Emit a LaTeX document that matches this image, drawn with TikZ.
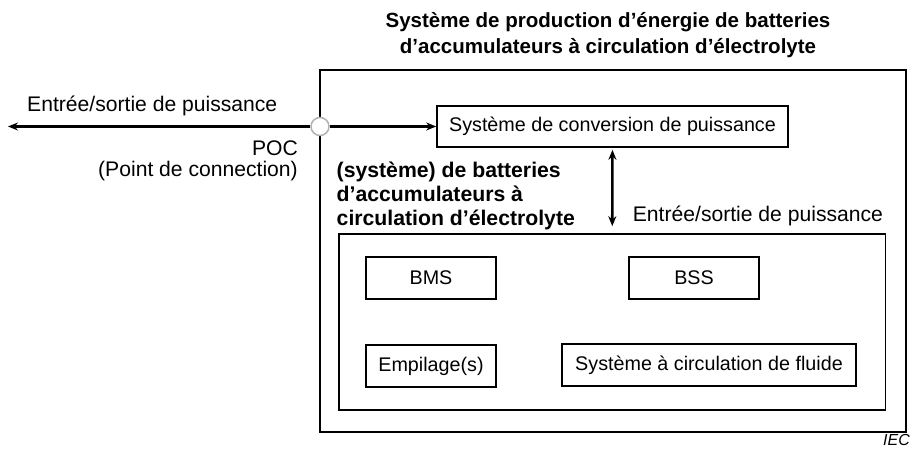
\documentclass[tikz,border=0pt]{standalone}
\usepackage{fontspec}
\setmainfont{Liberation Sans}
\usetikzlibrary{arrows.meta}

\tikzset{
  caja/.style={draw, line width=1.6bp, inner sep=0pt, font=\fontsize{19.8}{24}\selectfont},
  texto/.style={inner sep=0pt},
  flecha/.style={line width=2.6bp, -{Stealth[length=10bp, width=8bp]}},
  dobleflecha/.style={line width=2.6bp, {Stealth[length=10bp, width=8bp]}-{Stealth[length=10bp, width=8bp]}}
}

\begin{document}
\begin{tikzpicture}[x=1bp, y=-1bp, font=\fontsize{21.2}{24}\selectfont]
    % Marco de la figura
    \useasboundingbox (0,0) rectangle (912,450);

    % Título
    \node[texto, font=\bfseries\fontsize{20.6}{26}\selectfont, align=center] (titulo) at (608,35) {Système de production d’énergie de batteries\\d’accumulateurs à circulation d’électrolyte};

    % Cajas principales
    \node[caja, minimum width=586bp, minimum height=362bp] (sistema) at (613,251) {};
    \node[caja, minimum width=546.5bp, minimum height=176bp] (bateria) at (612.25,322) {};
    \node[caja, minimum width=351bp, minimum height=41bp] (pcs) at (612.5,126.5) {Système de conversion de puissance};

    % Componentes de la batería
    \node[caja, minimum width=130bp, minimum height=42bp] (bms) at (431,278) {BMS};
    \node[caja, minimum width=130bp, minimum height=42bp] (bss) at (694,278) {BSS};
    \node[caja, minimum width=130bp, minimum height=42bp] (pila) at (431,366) {Empilage(s)};
    \node[caja, minimum width=294bp, minimum height=42bp] (fluido) at (709,365) {Système à circulation de fluide};

    % Punto de conexión
    \node[circle, draw=gray!60, line width=1.5bp, fill=white, minimum size=18bp, inner sep=0pt] (poc) at (320,126.5) {};
    \coordinate (salida) at (8,126.5);

    % Flechas
    \draw[flecha] (poc) -- (salida);
    \draw[flecha] (poc) -- (pcs);
    \draw[dobleflecha, shorten <=2bp, shorten >=7bp] (pcs) -- (bateria.north);

    % Textos
    \node[texto, anchor=base west] (es1) at (27,111.7) {Entrée/sortie de puissance};
    \node[texto, anchor=base east] (poctxt) at (298,155.7) {POC};
    \node[texto, anchor=base east] (poctxt2) at (298,177) {(Point de connection)};
    \node[texto, anchor=west, align=left, font=\bfseries\fontsize{21.3}{24}\selectfont] (rfb) at (336.5,196) {(système) de batteries\\d’accumulateurs à\\circulation d’électrolyte};
    \node[texto, anchor=base west] (es2) at (632.7,221.7) {Entrée/sortie de puissance};
    \node[texto, anchor=base east, font=\itshape\fontsize{16}{18}\selectfont] (iec) at (910,445.8) {IEC};
\end{tikzpicture}
\end{document}
